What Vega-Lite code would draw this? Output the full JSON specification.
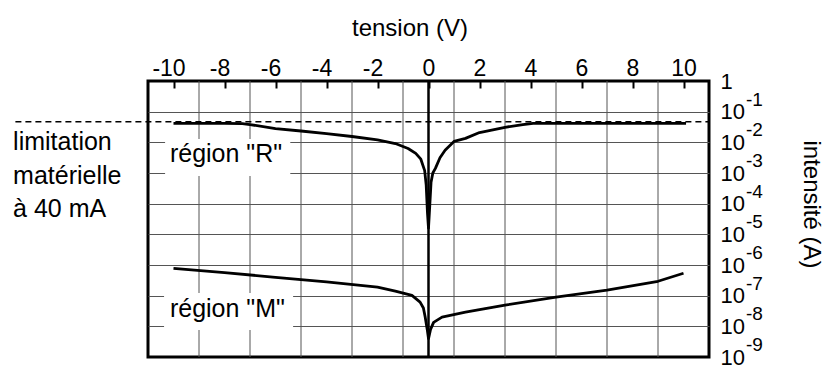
{
  "$schema": "https://vega.github.io/schema/vega-lite/v6.json",
  "width": 561,
  "height": 276,
  "autosize": {"type": "none"},
  "padding": {"left": 148, "top": 81, "right": 117, "bottom": 10},
  "background": "white",
  "config": {
    "font": "Liberation Sans",
    "view": {"stroke": "black", "strokeWidth": 3},
    "axis": {"labelFont": "Liberation Sans", "titleFont": "Liberation Sans", "labelColor": "black", "titleColor": "black", "titleFontWeight": "normal"},
    "text": {"font": "Liberation Sans", "color": "black"}
  },
  "datasets": {
    "curves": [
      {"s": "R", "v": -10.0, "i": 0.0417},
      {"s": "R", "v": -9.0, "i": 0.0417},
      {"s": "R", "v": -8.0, "i": 0.0417},
      {"s": "R", "v": -7.3, "i": 0.0407},
      {"s": "R", "v": -7.0, "i": 0.0380},
      {"s": "R", "v": -6.0, "i": 0.0282},
      {"s": "R", "v": -5.0, "i": 0.0234},
      {"s": "R", "v": -4.0, "i": 0.0191},
      {"s": "R", "v": -3.0, "i": 0.0155},
      {"s": "R", "v": -2.0, "i": 0.0120},
      {"s": "R", "v": -1.3, "i": 0.00912},
      {"s": "R", "v": -0.8, "i": 0.00631},
      {"s": "R", "v": -0.5, "i": 0.00437},
      {"s": "R", "v": -0.3, "i": 0.00282},
      {"s": "R", "v": -0.15, "i": 0.0012},
      {"s": "R", "v": -0.09, "i": 4.0e-4},
      {"s": "R", "v": -0.04, "i": 5.0e-5},
      {"s": "R", "v": 0.0, "i": 1.6e-5},
      {"s": "R", "v": 0.04, "i": 6.3e-5},
      {"s": "R", "v": 0.1, "i": 5.0e-4},
      {"s": "R", "v": 0.17, "i": 1.0e-3},
      {"s": "R", "v": 0.27, "i": 1.41e-3},
      {"s": "R", "v": 0.45, "i": 3.16e-3},
      {"s": "R", "v": 0.65, "i": 5.50e-3},
      {"s": "R", "v": 1.0, "i": 0.0107},
      {"s": "R", "v": 1.45, "i": 0.0135},
      {"s": "R", "v": 2.0, "i": 0.0209},
      {"s": "R", "v": 3.0, "i": 0.0309},
      {"s": "R", "v": 3.7, "i": 0.0380},
      {"s": "R", "v": 4.1, "i": 0.0417},
      {"s": "R", "v": 6.0, "i": 0.0417},
      {"s": "R", "v": 8.0, "i": 0.0417},
      {"s": "R", "v": 10.1, "i": 0.0417},
      {"s": "M", "v": -10.0, "i": 7.76e-7},
      {"s": "M", "v": -8.0, "i": 5.62e-7},
      {"s": "M", "v": -6.0, "i": 3.98e-7},
      {"s": "M", "v": -4.0, "i": 2.82e-7},
      {"s": "M", "v": -2.0, "i": 1.91e-7},
      {"s": "M", "v": -1.3, "i": 1.41e-7},
      {"s": "M", "v": -0.65, "i": 1.02e-7},
      {"s": "M", "v": -0.33, "i": 6.17e-8},
      {"s": "M", "v": -0.2, "i": 3.98e-8},
      {"s": "M", "v": -0.13, "i": 2.0e-8},
      {"s": "M", "v": -0.05, "i": 7.94e-9},
      {"s": "M", "v": 0.0, "i": 3.98e-9},
      {"s": "M", "v": 0.08, "i": 7.94e-9},
      {"s": "M", "v": 0.2, "i": 1.35e-8},
      {"s": "M", "v": 0.53, "i": 2.0e-8},
      {"s": "M", "v": 1.45, "i": 2.88e-8},
      {"s": "M", "v": 3.0, "i": 4.90e-8},
      {"s": "M", "v": 5.0, "i": 8.91e-8},
      {"s": "M", "v": 7.0, "i": 1.51e-7},
      {"s": "M", "v": 9.0, "i": 2.95e-7},
      {"s": "M", "v": 10.0, "i": 5.37e-7}
    ],
    "vgrid": [{"v": -9}, {"v": -7}, {"v": -5}, {"v": -3}, {"v": -1}, {"v": 1}, {"v": 3}, {"v": 5}, {"v": 7}, {"v": 9}],
    "expo": [
      {"i": 0.1, "e": "-1"}, {"i": 0.01, "e": "-2"}, {"i": 0.001, "e": "-3"},
      {"i": 1e-4, "e": "-4"}, {"i": 1e-5, "e": "-5"}, {"i": 1e-6, "e": "-6"},
      {"i": 1e-7, "e": "-7"}, {"i": 1e-8, "e": "-8"}, {"i": 1e-9, "e": "-9"}
    ]
  },
  "layer": [
    {
      "data": {"name": "vgrid"},
      "mark": {"type": "rule", "color": "#555", "strokeWidth": 1},
      "encoding": {
        "x": {
          "field": "v", "type": "quantitative",
          "scale": {"domain": [-11, 11], "nice": false, "zero": false},
          "axis": {
            "orient": "top",
            "values": [-10, -8, -6, -4, -2, 0, 2, 4, 6, 8, 10],
            "labelExpr": "(datum.value < 0 ? '-' : '') + abs(datum.value)",
            "labelFontSize": 23,
            "labelBaseline": "middle",
            "labelPadding": 20,
            "labelOffset": {"condition": {"test": "datum.value < 0", "value": -5}, "value": 0},
            "tickSize": -7,
            "tickWidth": 2,
            "tickColor": "black",
            "grid": false,
            "domain": false,
            "title": "tension (V)",
            "titleFontSize": 24,
            "titleAlign": "center",
            "titleBaseline": "middle",
            "titleX": 261.5,
            "titleY": -53
          }
        },
        "y": {
          "datum": 1e-9, "type": "quantitative",
          "scale": {"type": "log", "domain": [1e-9, 1], "nice": false},
          "axis": {
            "orient": "right",
            "values": [1, 0.1, 0.01, 0.001, 1e-4, 1e-5, 1e-6, 1e-7, 1e-8, 1e-9],
            "labelExpr": "datum.value >= 1 ? '1' : '10'",
            "labelFontSize": 22,
            "labelAlign": "left",
            "labelBaseline": "middle",
            "labelPadding": 11,
            "ticks": false,
            "domain": false,
            "grid": true,
            "gridColor": "#555",
            "gridWidth": 1,
            "gridOpacity": {"condition": {"test": "datum.value >= 1 || datum.value <= 1e-9", "value": 0}, "value": 1},
            "title": "intensité (A)",
            "titleFontSize": 24,
            "titleAngle": 90,
            "titleAlign": "center",
            "titleBaseline": "middle",
            "titleX": 101,
            "titleY": 123
          }
        },
        "y2": {"datum": 1}
      }
    },
    {
      "data": {"values": [{"t": "région \"R\""}]},
      "mark": {"type": "rect", "fill": "white"},
      "encoding": {
        "x": {"datum": -10.33, "type": "quantitative", "scale": {"domain": [-11, 11], "nice": false, "zero": false}},
        "x2": {"datum": -5.42},
        "y": {"datum": 0.0129, "type": "quantitative", "scale": {"type": "log", "domain": [1e-9, 1], "nice": false}},
        "y2": {"datum": 7.94e-4}
      }
    },
    {
      "data": {"values": [{"t": "région \"M\""}]},
      "mark": {"type": "rect", "fill": "white"},
      "encoding": {
        "x": {"datum": -10.37, "type": "quantitative", "scale": {"domain": [-11, 11], "nice": false, "zero": false}},
        "x2": {"datum": -5.31},
        "y": {"datum": 1.23e-7, "type": "quantitative", "scale": {"type": "log", "domain": [1e-9, 1], "nice": false}},
        "y2": {"datum": 7.6e-9}
      }
    },
    {
      "data": {"values": [{}]},
      "mark": {"type": "rule", "color": "black", "strokeWidth": 2.5},
      "encoding": {
        "x": {"datum": 0, "type": "quantitative", "scale": {"domain": [-11, 11], "nice": false, "zero": false}}
      }
    },
    {
      "data": {"values": [{}]},
      "mark": {"type": "rule", "color": "black", "strokeWidth": 1.5, "strokeDash": [6, 4]},
      "encoding": {
        "x": {"datum": -16.2, "type": "quantitative", "scale": {"domain": [-11, 11], "nice": false, "zero": false}},
        "x2": {"datum": 11},
        "y": {"datum": 0.047, "type": "quantitative", "scale": {"type": "log", "domain": [1e-9, 1], "nice": false}}
      }
    },
    {
      "data": {"name": "curves"},
      "mark": {"type": "line", "color": "black", "strokeWidth": 2.8, "strokeJoin": "round"},
      "encoding": {
        "x": {"field": "v", "type": "quantitative", "scale": {"domain": [-11, 11], "nice": false, "zero": false}},
        "y": {"field": "i", "type": "quantitative", "scale": {"type": "log", "domain": [1e-9, 1], "nice": false}},
        "detail": {"field": "s", "type": "nominal"}
      }
    },
    {
      "data": {"values": [{"t": "région \"R\""}]},
      "mark": {"type": "text", "align": "left", "baseline": "alphabetic", "fontSize": 25},
      "encoding": {
        "x": {"datum": -10.14, "type": "quantitative", "scale": {"domain": [-11, 11], "nice": false, "zero": false}},
        "y": {"datum": 2.37e-3, "type": "quantitative", "scale": {"type": "log", "domain": [1e-9, 1], "nice": false}},
        "text": {"field": "t"}
      }
    },
    {
      "data": {"values": [{"t": "région \"M\""}]},
      "mark": {"type": "text", "align": "left", "baseline": "alphabetic", "fontSize": 25},
      "encoding": {
        "x": {"datum": -10.14, "type": "quantitative", "scale": {"domain": [-11, 11], "nice": false, "zero": false}},
        "y": {"datum": 1.99e-8, "type": "quantitative", "scale": {"type": "log", "domain": [1e-9, 1], "nice": false}},
        "text": {"field": "t"}
      }
    },
    {
      "data": {"values": [{"t": "limitation\nmatérielle\nà 40 mA"}]},
      "mark": {"type": "text", "align": "left", "baseline": "alphabetic", "fontSize": 25, "lineBreak": "\n", "lineHeight": 33.5},
      "encoding": {
        "x": {"datum": -16.29, "type": "quantitative", "scale": {"domain": [-11, 11], "nice": false, "zero": false}},
        "y": {"datum": 5.62e-3, "type": "quantitative", "scale": {"type": "log", "domain": [1e-9, 1], "nice": false}},
        "text": {"field": "t"}
      }
    },
    {
      "data": {"name": "expo"},
      "mark": {"type": "text", "align": "left", "baseline": "middle", "fontSize": 19, "dx": 37, "dy": -12},
      "encoding": {
        "x": {"datum": 11, "type": "quantitative", "scale": {"domain": [-11, 11], "nice": false, "zero": false}},
        "y": {"field": "i", "type": "quantitative", "scale": {"type": "log", "domain": [1e-9, 1], "nice": false}},
        "text": {"field": "e"}
      }
    }
  ]
}
